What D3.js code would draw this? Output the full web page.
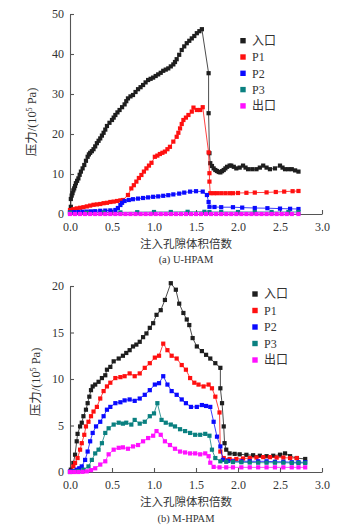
<!DOCTYPE html>
<html><head><meta charset="utf-8">
<script src="https://cdn.jsdelivr.net/npm/d3@7"></script>
<style>body{margin:0;background:#fff}</style>
</head><body><svg id="c" width="363" height="531"></svg>
<script>
const seriesNames = ["入口","P1","P2","P3","出口"];
const seriesColors = ["#1e1e1e","#ff1010","#0a0aff","#0a8080","#ff10ff"];
const xTicks = [0,0.5,1,1.5,2,2.5,3];
const xTickLabels = ["0.0","0.5","1.0","1.5","2.0","2.5","3.0"];
const yTicksA = [0,10,20,30,40,50];
const yTicksB = [0,5,10,15,20];
const xTitle = "注入孔隙体积倍数";
const captionA = "(a) U-HPAM";
const captionB = "(b) M-HPAM";

// (a) U-HPAM
const aInlet = [[0.01,1.8],[0.01,3.75],[0.02,4.6],[0.03,5.2],[0.04,5.9],[0.05,6.4],[0.06,7.0],[0.07,7.7],[0.085,8.3],[0.1,8.9],[0.115,9.8],[0.13,10.6],[0.15,11.4],[0.17,12.25],[0.19,13.3],[0.21,14.3],[0.225,14.9],[0.24,15.3],[0.26,15.7],[0.28,16.2],[0.3,16.9],[0.32,17.7],[0.34,18.3],[0.36,18.9],[0.38,19.6],[0.4,20.3],[0.42,21.1],[0.44,22],[0.47,22.8],[0.5,23.5],[0.52,24.1],[0.54,24.75],[0.565,25.4],[0.59,26],[0.62,26.7],[0.65,27.4],[0.67,28.2],[0.69,28.9],[0.72,29.4],[0.75,29.75],[0.78,30.5],[0.81,31.2],[0.84,31.7],[0.87,32.25],[0.9,32.9],[0.93,33.5],[0.96,33.8],[0.99,34.1],[1.02,34.5],[1.05,34.9],[1.08,35.3],[1.11,35.8],[1.14,36.1],[1.17,36.4],[1.2,36.9],[1.23,37.4],[1.25,38.0],[1.27,38.7],[1.3,39.8],[1.33,41],[1.36,41.9],[1.39,42.7],[1.42,43.3],[1.45,43.9],[1.48,44.5],[1.51,45.2],[1.54,45.7],[1.57,46.2],[1.65,35.2],[1.65,25.2],[1.66,15.2],[1.67,12.7],[1.69,12.0],[1.71,11.4],[1.73,11.0],[1.75,10.75],[1.77,10.5],[1.79,10.4],[1.81,10.7],[1.83,11],[1.85,11.4],[1.87,11.8],[1.9,12.1],[1.92,12.1],[1.95,11.8],[1.98,11.4],[2.02,11.6],[2.06,12.1],[2.09,11.6],[2.12,11.2],[2.17,11.2],[2.22,11.2],[2.26,11.6],[2.3,12.1],[2.34,11.6],[2.38,11.2],[2.44,11.4],[2.5,12.1],[2.53,11.6],[2.56,11.2],[2.6,11.2],[2.64,11.2],[2.68,10.9],[2.72,10.6]];
const aP1 = [[0.0,1.0],[0.04,1.2],[0.08,1.4],[0.12,1.55],[0.16,1.7],[0.2,1.9],[0.24,2.1],[0.28,2.3],[0.32,2.4],[0.36,2.5],[0.4,2.7],[0.44,2.8],[0.48,3.0],[0.52,3.1],[0.56,3.25],[0.6,3.4],[0.63,3.5],[0.69,4.75],[0.73,6.4],[0.76,7.2],[0.79,8.1],[0.82,9.0],[0.85,9.75],[0.88,10.6],[0.91,11.4],[0.94,12.1],[0.97,12.8],[1.01,14.3],[1.04,14.6],[1.07,15],[1.1,15.3],[1.13,15.6],[1.16,16.2],[1.19,16.8],[1.23,18.1],[1.27,19.3],[1.29,20.3],[1.31,21.4],[1.33,22.5],[1.35,23.5],[1.38,24.1],[1.41,24.75],[1.45,25.6],[1.47,26.6],[1.51,26],[1.55,26],[1.58,26.7],[1.65,15.4],[1.66,10.2],[1.66,8.1],[1.67,5.2],[1.71,5.2],[1.75,5.2],[1.8,5.2],[1.85,5.2],[1.9,5.2],[1.94,5.2],[2.0,5.25],[2.1,5.3],[2.2,5.35],[2.34,5.4],[2.45,5.5],[2.55,5.6],[2.65,5.7],[2.72,5.75]];
const aP2 = [[0,0.4],[0.05,0.45],[0.1,0.5],[0.15,0.55],[0.2,0.6],[0.25,0.65],[0.3,0.7],[0.36,0.8],[0.42,0.85],[0.48,0.9],[0.54,1.0],[0.57,1.5],[0.6,2.25],[0.62,2.8],[0.65,3.25],[0.7,3.5],[0.75,3.7],[0.81,3.85],[0.87,4.0],[0.93,4.15],[0.99,4.3],[1.05,4.4],[1.11,4.55],[1.17,4.7],[1.23,4.9],[1.3,5.1],[1.36,5.35],[1.43,5.6],[1.5,5.7],[1.58,5.6],[1.63,4.75],[1.65,3.0],[1.66,1.8],[1.72,1.75],[1.8,1.7],[1.94,1.7],[2.05,1.6],[2.2,1.5],[2.35,1.45],[2.5,1.35],[2.62,1.3],[2.72,1.25]];
const aP3 = [[0,0.3],[0.2,0.3],[0.4,0.35],[0.6,0.4],[0.8,0.45],[1.0,0.5],[1.2,0.5],[1.4,0.55],[1.6,0.55],[1.66,0.5],[1.8,0.5],[2.0,0.5],[2.2,0.5],[2.4,0.5],[2.6,0.5],[2.72,0.5]];
const aOutlet = [[0,0],[0.06,0],[0.12,0],[0.18,0],[0.24,0],[0.3,0],[0.36,0],[0.42,0],[0.48,0],[0.54,0],[0.6,0],[0.66,0],[0.72,0],[0.78,0],[0.84,0],[0.9,0],[0.96,0],[1.02,0],[1.08,0],[1.14,0],[1.2,0],[1.26,0],[1.32,0],[1.38,0],[1.44,0],[1.5,0],[1.56,0],[1.62,0],[1.68,0],[1.74,0],[1.8,0],[1.86,0],[1.92,0],[1.98,0],[2.04,0],[2.1,0],[2.16,0],[2.22,0],[2.28,0],[2.34,0],[2.4,0],[2.46,0],[2.52,0],[2.58,0],[2.64,0],[2.72,0]];

// (b) M-HPAM
const bInlet = [[0.01,0.25],[0.04,0.97],[0.06,1.86],[0.08,3.3],[0.09,4.1],[0.12,4.9],[0.14,5.3],[0.16,6.0],[0.19,6.7],[0.21,7.4],[0.23,8.1],[0.25,8.8],[0.27,9.2],[0.3,9.4],[0.34,9.7],[0.38,10.1],[0.42,10.4],[0.44,11.0],[0.48,11.3],[0.52,11.9],[0.58,12.2],[0.63,12.5],[0.67,12.8],[0.71,13.1],[0.75,13.5],[0.79,13.7],[0.83,14.0],[0.87,14.5],[0.91,14.9],[0.95,15.5],[0.99,16.0],[1.03,16.9],[1.08,17.4],[1.13,18.5],[1.2,20.3],[1.26,19.6],[1.3,18.1],[1.35,17.1],[1.39,16.4],[1.42,15.8],[1.46,14.4],[1.51,13.5],[1.57,13.0],[1.62,12.6],[1.67,12.2],[1.73,11.7],[1.79,11.2],[1.79,9.0],[1.81,7.4],[1.83,4.9],[1.84,3.1],[1.86,2.4],[1.9,2.0],[1.96,1.95],[2.02,1.9],[2.1,1.85],[2.18,1.8],[2.26,1.75],[2.34,1.7],[2.42,1.75],[2.5,1.86],[2.56,2.0],[2.62,1.7],[2.7,1.5],[2.8,1.4]];
const bP1 = [[0.01,0.07],[0.04,0.6],[0.06,0.97],[0.09,1.5],[0.12,2.4],[0.14,3.1],[0.17,4.0],[0.19,4.9],[0.22,5.4],[0.25,6.0],[0.28,6.5],[0.32,7.0],[0.36,7.9],[0.4,8.7],[0.44,9.2],[0.48,9.6],[0.54,10.1],[0.6,10.2],[0.65,10.3],[0.71,10.6],[0.77,10.3],[0.83,10.6],[0.89,11.2],[0.95,11.7],[1.01,12.3],[1.06,12.5],[1.11,13.8],[1.16,13.1],[1.21,12.5],[1.27,12.2],[1.33,11.5],[1.38,11.0],[1.43,10.1],[1.48,9.6],[1.53,9.4],[1.59,9.2],[1.65,9.4],[1.69,9.0],[1.73,8.1],[1.78,6.4],[1.79,2.2],[1.83,1.5],[1.9,1.4],[1.98,1.4],[2.06,1.45],[2.14,1.5],[2.22,1.55],[2.3,1.6],[2.38,1.6],[2.46,1.55],[2.54,1.55],[2.62,1.5],[2.7,1.5]];
const bP2 = [[0.0,0.05],[0.04,0.1],[0.08,0.25],[0.11,0.4],[0.14,0.6],[0.18,1.3],[0.21,2.2],[0.24,3.3],[0.27,4.2],[0.31,4.9],[0.36,5.4],[0.4,6.0],[0.44,6.7],[0.48,7.0],[0.54,7.4],[0.6,7.5],[0.65,7.7],[0.71,7.8],[0.77,7.65],[0.83,7.9],[0.89,8.3],[0.95,8.8],[1.01,9.4],[1.06,9.55],[1.11,10.3],[1.16,9.4],[1.21,8.7],[1.27,8.3],[1.33,7.8],[1.38,7.4],[1.44,7.0],[1.51,7.0],[1.57,7.2],[1.62,7.1],[1.67,7.0],[1.71,5.4],[1.75,3.8],[1.79,2.75],[1.82,1.3],[1.88,1.2],[1.94,1.15],[2.04,1.15],[2.14,1.15],[2.24,1.15],[2.34,1.15],[2.44,1.1],[2.54,1.1],[2.64,1.05],[2.72,1.05],[2.8,1.05]];
const bP3 = [[0,0],[0.05,0.05],[0.1,0.1],[0.16,0.25],[0.22,0.6],[0.26,1.3],[0.3,2.0],[0.34,2.4],[0.38,3.1],[0.42,4.2],[0.46,4.7],[0.52,5.1],[0.58,5.3],[0.63,5.2],[0.67,5.3],[0.73,5.1],[0.77,5.6],[0.83,5.2],[0.89,5.4],[0.95,6.0],[1.0,6.3],[1.04,7.4],[1.09,5.6],[1.14,5.3],[1.2,5.1],[1.25,4.9],[1.31,4.6],[1.37,4.4],[1.43,4.2],[1.49,4.0],[1.55,4.0],[1.61,4.1],[1.66,3.9],[1.69,2.4],[1.73,1.5],[1.79,1.15],[1.86,1.1],[1.94,1.07],[2.04,1.05],[2.14,1.02],[2.24,1.0],[2.34,1.0],[2.44,1.0],[2.54,1.0],[2.64,0.97],[2.72,0.97],[2.8,0.97]];
const bOutlet = [[0,0],[0.05,0],[0.1,0],[0.15,0.02],[0.2,0.07],[0.25,0.2],[0.3,0.4],[0.36,0.8],[0.42,1.15],[0.46,1.9],[0.52,2.4],[0.58,2.6],[0.63,2.65],[0.69,2.5],[0.75,2.75],[0.81,2.9],[0.87,3.3],[0.93,3.65],[0.99,3.9],[1.03,4.4],[1.08,4.0],[1.13,3.3],[1.19,2.9],[1.25,2.5],[1.31,2.2],[1.37,2.1],[1.43,2.0],[1.49,2.0],[1.55,1.9],[1.61,2.0],[1.65,1.7],[1.67,1.0],[1.71,0.55],[1.78,0.5],[1.86,0.5],[1.94,0.5],[2.04,0.5],[2.14,0.5],[2.24,0.5],[2.34,0.5],[2.44,0.5],[2.54,0.5],[2.64,0.5],[2.72,0.5],[2.8,0.5]];

const svg = d3.select("#c");
const serif = "'Liberation Serif','Times New Roman',serif";
const cjk = "'Noto Sans CJK SC','Liberation Serif',serif";
const axisColor = "#555";
const textColor = "#333";

function drawPanel(cfg) {
  const g = svg.append("g");
  const x = d3.scaleLinear().domain([0,3]).range([70,322]);
  const y = d3.scaleLinear().domain([0,cfg.yMax]).range([cfg.bottom,cfg.top]);

  const xAxis = d3.axisBottom(x).tickValues(xTicks).tickSizeInner(-4).tickSizeOuter(0)
      .tickFormat((d,i)=>xTickLabels[i]).tickPadding(8);
  const gx = g.append("g").attr("transform",`translate(0,${cfg.bottom})`).call(xAxis);
  const yAxis = d3.axisLeft(y).tickValues(cfg.yTicks).tickSizeInner(-4).tickSizeOuter(0).tickPadding(6);
  const gy = g.append("g").attr("transform","translate(70,0)").call(yAxis);
  [gx,gy].forEach(a=>{
    a.attr("font-family",null);
    a.selectAll("path,line").attr("stroke",axisColor).attr("stroke-width",1.1);
    a.selectAll("text").attr("fill",textColor).style("font-family",serif).style("font-size","12px");
  });

  const line = d3.line().x(d=>x(d[0])).y(d=>y(d[1]));
  cfg.series.forEach((s,i)=>{
    const c = seriesColors[i];
    g.append("path").datum(s).attr("d",line).attr("fill","none").attr("stroke",c).attr("stroke-width",0.8);
    g.selectAll(null).data(s).enter().append("rect")
      .attr("x",d=>x(d[0])-2.1).attr("y",d=>y(d[1])-2.1).attr("width",4.2).attr("height",4.2).attr("fill",c);
  });

  // legend
  seriesNames.forEach((n,i)=>{
    const ly = cfg.legY + i*cfg.legDy;
    g.append("rect").attr("x",cfg.legX-2.7).attr("y",ly-2.7).attr("width",5.4).attr("height",5.4).attr("fill",seriesColors[i]);
    g.append("text").attr("x",cfg.legX+9).attr("y",ly).attr("dy","0.36em")
      .style("font-family", i===0||i===4 ? cjk : serif).style("font-size","12px").attr("fill",textColor).text(n);
  });

  // y title
  const yt = g.append("text").attr("transform",`translate(${cfg.yTitleX},${cfg.yTitleY}) rotate(-90)`)
    .attr("text-anchor","middle").attr("dy","0.35em").attr("fill",textColor).style("font-size","12.5px");
  yt.append("tspan").style("font-family",cjk).text("压力");
  yt.append("tspan").style("font-family",serif).text("/(10");
  yt.append("tspan").style("font-family",serif).style("font-size","7.5px").attr("dy","-4").text("5");
  yt.append("tspan").style("font-family",serif).attr("dy","4").text(" Pa)");

  g.append("text").attr("x",186).attr("y",cfg.xTitleY).attr("text-anchor","middle")
    .style("font-family",cjk).style("font-size","11.5px").attr("fill",textColor).text(xTitle);
  g.append("text").attr("x",186).attr("y",cfg.capY).attr("text-anchor","middle")
    .style("font-family",serif).style("font-size","10.5px").attr("fill",textColor).text(cfg.caption);
}

drawPanel({yMax:50, yTicks:yTicksA, top:14, bottom:214,
  series:[aInlet,aP1,aP2,aP3,aOutlet], legX:243, legY:40.7, legDy:16.3,
  yTitleX:32, yTitleY:122, xTitleY:248, capY:263, caption:captionA});
drawPanel({yMax:20, yTicks:yTicksB, top:286, bottom:472,
  series:[bInlet,bP1,bP2,bP3,bOutlet], legX:255, legY:294, legDy:16.5,
  yTitleX:36, yTitleY:382, xTitleY:506, capY:522, caption:captionB});
</script>
</body></html>
